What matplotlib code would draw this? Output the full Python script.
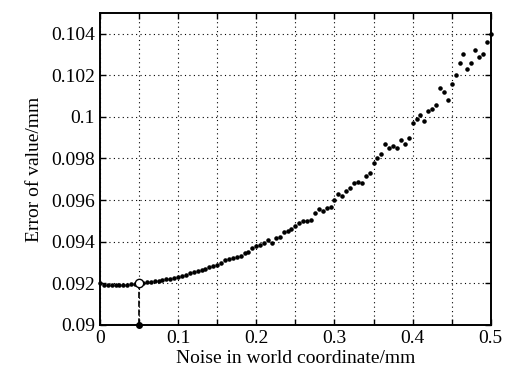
import numpy as np
import matplotlib.pyplot as plt
from matplotlib.ticker import FuncFormatter

plt.rcParams['font.family'] = ['Liberation Serif', 'DejaVu Serif']

# noise level (mm), step 0.005
noise = np.arange(0, 101) * 0.005
# error of value (mm)
error = [
    0.09200, 0.09192, 0.09190, 0.09192, 0.09191, 0.09193, 0.09192, 0.09194, 0.09195, 0.09196,
    0.09200, 0.09203, 0.09206, 0.09208, 0.09211, 0.09213, 0.09216, 0.09220, 0.09222, 0.09226,
    0.09230, 0.09235, 0.09240, 0.09250, 0.09255, 0.09260, 0.09266, 0.09270, 0.09277, 0.09282,
    0.09290, 0.09300, 0.09310, 0.09318, 0.09322, 0.09325, 0.09330, 0.09345, 0.09352, 0.09368,
    0.09378, 0.09385, 0.09392, 0.09408, 0.09395, 0.09420, 0.09425, 0.09445, 0.09450, 0.09460,
    0.09475, 0.09492, 0.09502, 0.09500, 0.09505, 0.09540, 0.09558, 0.09550, 0.09562, 0.09565,
    0.09600, 0.09630, 0.09618, 0.09645, 0.09660, 0.09680, 0.09685, 0.09682, 0.09718, 0.09730,
    0.09780, 0.09800, 0.09820, 0.09870, 0.09850, 0.09860, 0.09850, 0.09890, 0.09870, 0.09900,
    0.09970, 0.09990, 0.10010, 0.09980, 0.10030, 0.10040, 0.10055, 0.10140, 0.10120, 0.10080,
    0.10160, 0.10200, 0.10260, 0.10300, 0.10230, 0.10260, 0.10320, 0.10290, 0.10300, 0.10360,
    0.10400,
]
# highlighted point
mark_x = 0.05
mark_y = 0.092
y_bottom = 0.09

fig = plt.figure(figsize=(5.07, 3.77), dpi=100)
ax = fig.add_axes([0.197, 0.138, 0.771, 0.828])

ax.plot(noise, error, 'k.', markersize=4.5, linestyle='none', clip_on=False, zorder=4)
ax.plot([mark_x, mark_x], [mark_y, y_bottom], 'k--', linewidth=1.2)
ax.plot(mark_x, y_bottom, 'ko', markersize=4, clip_on=False, zorder=5)
ax.plot(mark_x, mark_y, 'o', markerfacecolor='white', markeredgecolor='black',
        markersize=6, markeredgewidth=1.0, zorder=6)

ax.set_xlim(0, 0.5)
ax.set_ylim(0.09, 0.105)
ax.set_xticks(np.arange(0, 0.501, 0.05))
ax.xaxis.set_major_formatter(FuncFormatter(
    lambda v, p: ('%g' % round(v, 3)) if p % 2 == 0 else ''))
ax.set_yticks(np.arange(0.09, 0.1041, 0.002))
ax.yaxis.set_major_formatter(FuncFormatter(lambda v, p: '%g' % round(v, 4)))

ax.grid(True, color='black', linestyle=(0, (1, 3)), linewidth=0.8)
ax.tick_params(direction='in', top=True, right=True, labelsize=14, length=4, width=1)
for s in ax.spines.values():
    s.set_linewidth(1.4)

ax.set_xlabel('Noise in world coordinate/mm', fontsize=14, labelpad=2)
ax.set_ylabel('Error of value/mm', fontsize=14, labelpad=6)

fig.savefig('out.png', dpi=100)
